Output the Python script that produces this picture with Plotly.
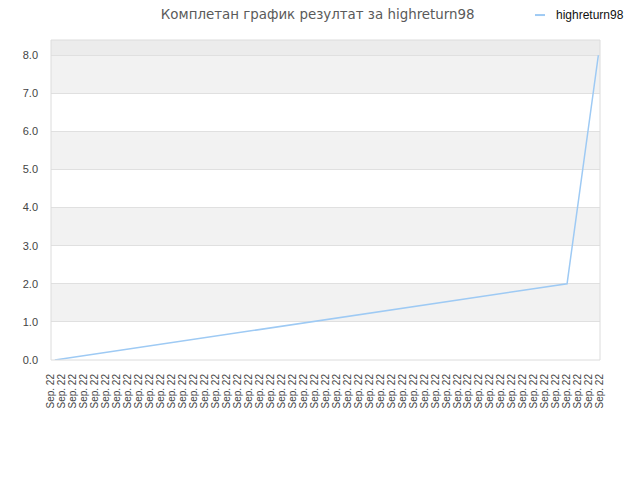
import plotly.graph_objects as go

# Data
title_text = "Комплетан график резултат за highreturn98"
series_name = "highreturn98"
tick_labels = ["Sep. 22"] * 51
tick_positions = list(range(len(tick_labels)))
x_values = [0.35, 47.0, 49.85]
y_values = [0.0, 2.0, 8.0]
y_ticks = [0, 1, 2, 3, 4, 5, 6, 7, 8]

line_color = "#9ecaf4"

fig = go.Figure()
fig.add_trace(go.Scatter(
    x=x_values, y=y_values, mode="lines", name=series_name,
    line=dict(color=line_color, width=1.5), showlegend=False,
))

shapes = []
# alternating bands
for i in range(len(y_ticks)):
    lo = y_ticks[i]
    hi = y_ticks[i] + 1
    if i % 2 == 1:
        shapes.append(dict(type="rect", xref="paper", yref="y", x0=0, x1=1, y0=lo, y1=hi,
                           fillcolor="#f2f2f2", line=dict(width=0), layer="below"))
shapes.append(dict(type="rect", xref="paper", yref="y", x0=0, x1=1, y0=8, y1=8.4,
                   fillcolor="#ececec", line=dict(width=0), layer="below"))
shapes.append(dict(type="rect", xref="paper", yref="paper", x0=0, x1=1, y0=0, y1=1,
                   fillcolor="rgba(0,0,0,0)", line=dict(color="#dcdcdc", width=1)))
# legend symbol
shapes.append(dict(type="line", xref="paper", yref="paper", x0=0.8816, x1=0.8998,
                   y0=1.078, y1=1.078, line=dict(color=line_color, width=2)))

annotations = [dict(text=series_name, xref="paper", yref="paper", x=0.9162, y=1.078,
                    xanchor="left", yanchor="middle", showarrow=False,
                    font=dict(family="Liberation Sans", size=12, color="#111111"))]

fig.update_layout(
    width=640, height=480,
    margin=dict(l=43, r=48, t=32, b=128),
    paper_bgcolor="white", plot_bgcolor="white",
    shapes=shapes, annotations=annotations,
    showlegend=False,
    title=dict(text=title_text, x=0.484, xanchor="center", y=0.9875, yanchor="middle",
               font=dict(family="DejaVu Sans", size=13.4, color="#5a5a5a")),
    xaxis=dict(range=[0, 50], tickmode="array", tickvals=tick_positions, ticktext=tick_labels,
               tickangle=-90, showgrid=False, zeroline=False, showline=False, automargin=False,
               tickfont=dict(family="Liberation Sans", size=10, color="#444444"), ticks="",
               ticklabelstandoff=11),
    yaxis=dict(range=[0, 8.4], tickmode="array", tickvals=y_ticks, automargin=False,
               ticktext=[f"{v:.1f}" for v in y_ticks], showgrid=True, gridcolor="#e0e0e0",
               zeroline=False, showline=False, ticks="", ticklabelstandoff=12,
               tickfont=dict(family="Liberation Sans", size=11, color="#444444")),
)

fig.write_html("out.html")
